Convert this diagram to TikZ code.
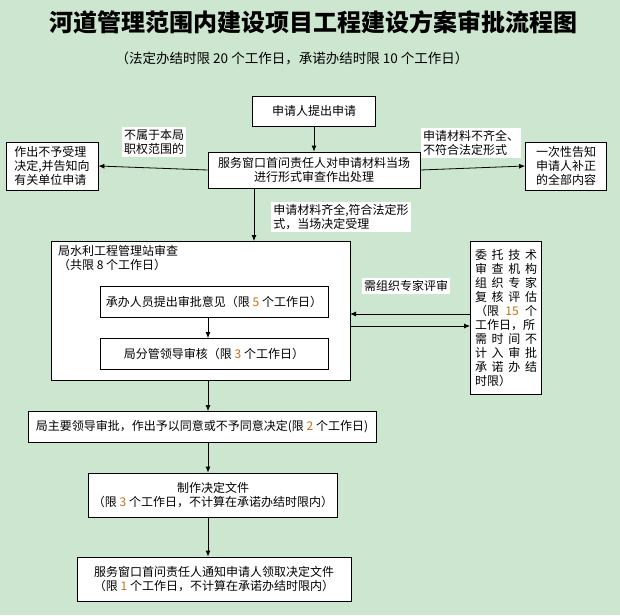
\documentclass[tikz,border=0pt]{standalone}
\usepackage{fontspec}
\setmainfont{Noto Sans CJK SC}
\usetikzlibrary{arrows.meta}
\definecolor{bgcol}{RGB}{204,230,208}
\definecolor{numcol}{RGB}{200,110,20}
\newcommand{\num}[1]{\textcolor{numcol}{#1}}
\newcommand{\spread}[1]{\hbox to 62pt{#1}}
\begin{document}
\begin{tikzpicture}[
        x=1pt,
        y=-1pt,
        font=\fontsize{12}{14}\selectfont,
        box/.style={
            draw,
            fill=white,
            line width=0.8pt,
            inner sep=2pt,
            align=center
          },
        note/.style={
            fill=white,
            inner sep=2pt,
            align=left
          },
        arr/.style={-{Latex[length=6pt,width=5pt]}, line width=0.8pt}]
        % Background
        \fill[bgcol] (0,0) rectangle (620,615);
        \useasboundingbox (0,0) rectangle (620,615);

        % Title
        \node (title) at (313,22) {\fontsize{24}{27}\selectfont\bfseries 河道管理范围内建设项目工程建设方案审批流程图};
        \node (sub) at (292,58) {\fontsize{13.5}{16}\selectfont（法定办结时限 20 个工作日，承诺办结时限 10 个工作日）};

        % Boxes
        \node[box, minimum width=123, minimum height=30] (apply) at (314,111) {申请人提出申请};
        \node[box, minimum width=212, minimum height=36] (window) at (314,170) {服务窗口首问责任人对申请材料当场\\进行形式审查作出处理};
        \node[box, minimum width=92, minimum height=48, align=left] (reject) at (52,166) {作出不予受理\\决定,并告知向\\有关单位申请};
        \node[box, minimum width=81, minimum height=48, align=left] (inform) at (566,166) {一次性告知\\申请人补正\\的全部内容};
        \node[note] (lblout) at (154,142) {不属于本局\\职权范围的};
        \node[note] (lblmiss) at (471,143) {申请材料不齐全、\\不符合法定形式};
        \node[note] (lblok) at (341,217) {申请材料齐全,符合法定形\\式，当场决定受理};

        % Station review
        \draw[fill=white, line width=0.8pt] (51,241) rectangle (350,380);
        \coordinate (stationtop) at (254,241);
        \coordinate (stationbot) at (208,380);
        \coordinate (stationin) at (350,314);
        \coordinate (stationout) at (350,326);
        \node[anchor=north west, align=left, inner sep=0pt] (station) at (58,245) {局水利工程管理站审查\\（共限 8 个工作日）};
        \node[box, minimum width=228, minimum height=31] (staff) at (214,302) {承办人员提出审批意见（限 \num{5} 个工作日）};
        \node[box, minimum width=228, minimum height=31] (deputy) at (214,354) {局分管领导审核（限 \num{3} 个工作日）};

        \node[box, minimum width=71, minimum height=153, align=left, anchor=north, inner sep=3pt] (expert) at (506,241)
            {\spread{委\hfil 托\hfil 技\hfil 术}\\\spread{审\hfil 查\hfil 机\hfil 构}\\\spread{组\hfil 织\hfil 专\hfil 家}\\\spread{复\hfil 核\hfil 评\hfil 估}\\\spread{（限\hfil \num{15}\hfil 个}\\\spread{工作日，所}\\\spread{需\hfil 时\hfil 间\hfil 不}\\\spread{计\hfil 入\hfil 审\hfil 批}\\\spread{承\hfil 诺\hfil 办\hfil 结}\\时限）};
        \node[note] (lblexp) at (406,286) {需组织专家评审};

        \node[box, minimum width=348, minimum height=31] (chief) at (202,427) {局主要领导审批，作出予以同意或不予同意决定(限 \num{2} 个工作日)};
        \node[box, minimum width=249, minimum height=44] (draft) at (213,495) {制作决定文件\\（限 \num{3} 个工作日，不计算在承诺办结时限内）};
        \node[box, minimum width=274, minimum height=44] (notify) at (214,579) {服务窗口首问责任人通知申请人领取决定文件\\（限 \num{1} 个工作日，不计算在承诺办结时限内）};

        % Connectors
        \draw[arr] (apply) -- (window);
        \draw[arr] (window.west) -- (reject.east);
        \draw[arr] (window.east) -- (inform.west);
        \draw[arr] (window.south -| stationtop) -- (stationtop);
        \draw[arr] (staff.south -| stationbot) -- (deputy.north -| stationbot);
        \draw[arr] (expert.west |- stationin) -- (stationin);
        \draw[arr] (stationout) -- (expert.west |- stationout);
        \draw[arr] (stationbot) -- (chief.north -| stationbot);
        \draw[arr] (chief.south -| stationbot) -- (draft.north -| stationbot);
        \draw[arr] (draft.south -| stationbot) -- (notify.north -| stationbot);
    \end{tikzpicture}
\end{document}
